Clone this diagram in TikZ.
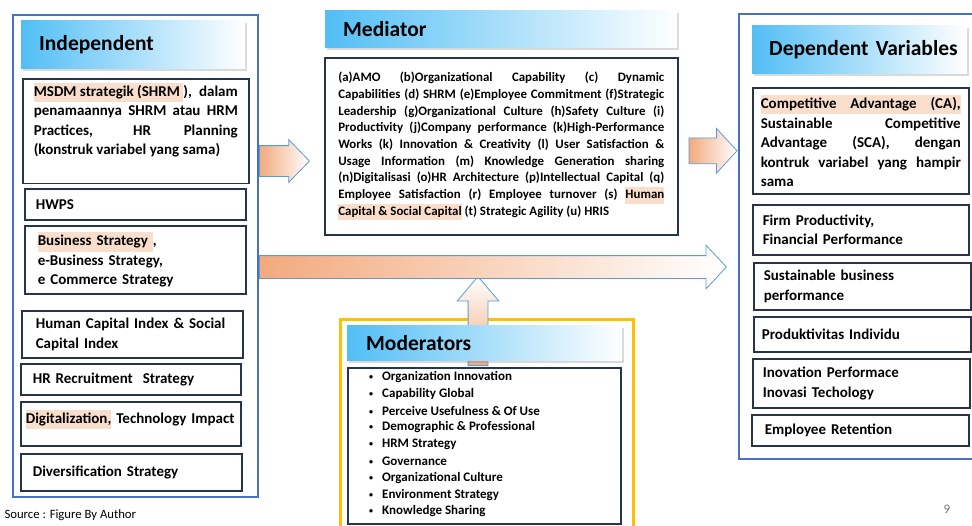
\documentclass[tikz,border=0pt]{standalone}
\usepackage{fontspec}
\setmainfont{Carlito}
\usetikzlibrary{positioning,shapes.arrows,shadows}

\definecolor{frameblue}{RGB}{68,114,196}
\definecolor{boxnavy}{RGB}{40,52,74}
\definecolor{arrowblue}{RGB}{91,155,213}
\definecolor{peach}{RGB}{242,170,125}
\definecolor{marker}{RGB}{250,222,204}
\definecolor{sky}{RGB}{82,190,245}
\definecolor{gold}{RGB}{255,192,0}

\newcommand{\marked}[1]{{\setlength{\fboxsep}{0pt}\colorbox{marker}{\strut#1}}}

\begin{document}
\begin{tikzpicture}[
  x=1pt,y=-1pt,
  frame/.style={draw=frameblue,line width=2pt,anchor=north west},
  header/.style={anchor=north west,left color=sky,right color=white,
    drop shadow={shadow xshift=2pt,shadow yshift=-2.5pt,opacity=.3},
    inner xsep=18pt,align=left,font=\fontsize{21.5}{26}\selectfont\bfseries},
  item/.style={anchor=north west,draw=boxnavy,line width=1.6pt,fill=white,
    inner ysep=4pt,align=left,font=\fontsize{15}{19.5}\selectfont\bfseries},
  blockarrow/.style={single arrow,draw=arrowblue,line width=.8pt,inner xsep=0pt,anchor=tail},
  bullet/.style={anchor=west,inner sep=0pt,font=\fontsize{13}{16}\selectfont\bfseries},
  note/.style={font=\fontsize{12.7}{15}\selectfont}
]
  \useasboundingbox (0,0) rectangle (972,525);

  \node[frame,minimum width=245pt,minimum height=482pt] (indep) at (12,14) {};
  \node[header,text width=188pt,minimum height=48pt] (indephead) at (21,20) {Independent};
  \node[item,inner xsep=11pt,text width=204pt,align=justify,text depth=83pt] (msdm) at (22,78)
    {\marked{MSDM strategik (SHRM }), dalam\linebreak
     penamaannya SHRM atau HRM\linebreak
     Practices, HR Planning\linebreak
     (konstruk variabel yang sama)};
  \node[item,inner xsep=11pt,text width=199pt,minimum height=31pt] (hwps) at (24,188) {HWPS};
  \node[item,inner xsep=13pt,text width=195pt,minimum height=68pt] (bstrat) at (24,225)
    {\marked{Business Strategy }, \\ e-Business Strategy,\\ e Commerce Strategy};
  \node[item,inner xsep=14pt,text width=193pt,minimum height=47pt] (hci) at (21,310)
    {Human Capital Index \& Social\\ Capital Index};
  \node[item,inner xsep=12pt,text width=196pt,minimum height=31pt] (recruit) at (20,363)
    {HR Recruitment\ \ Strategy};
  \node[item,inner xsep=5pt,text width=210pt,minimum height=44pt,text depth=14pt] (digital) at (20,401)
    {\marked{Digitalization,} Technology Impact};
  \node[item,inner xsep=12pt,text width=197pt,minimum height=37pt] (diverse) at (20,453)
    {Diversification Strategy};

  \node[header,text width=316pt,minimum height=37pt] (medhead) at (325,10) {Mediator};
  \node[item,inner xsep=13.5pt,text width=326pt,minimum height=177pt,align=justify,
    font=\fontsize{12.9}{16.7}\selectfont\bfseries] (medbody) at (324,57)
    {(a)AMO (b)Organizational Capability (c) Dynamic\linebreak
     Capabilities (d) SHRM (e)Employee Commitment (f)Strategic\linebreak
     Leadership (g)Organizational Culture (h)Safety Culture (i)\linebreak
     Productivity (j)Company performance (k)High-Performance\linebreak
     Works (k) Innovation \& Creativity (l) User Satisfaction \&\linebreak
     Usage Information (m) Knowledge Generation sharing\linebreak
     (n)Digitalisasi (o)HR Architecture (p)Intellectual Capital (q)\linebreak
     Employee Satisfaction (r) Employee turnover (s) \marked{Human}\linebreak
     \marked{Capital \& Social Capital} (t) Strategic Agility (u) HRIS};

  \node[frame,minimum width=240pt,minimum height=445pt] (dep) at (738,13) {};
  \node[header,inner xsep=17pt,text width=181pt,minimum height=48pt] (dephead) at (752,25)
    {\mbox{Dependent Variables}};
  \node[item,inner xsep=8pt,text width=200pt,align=justify,minimum height=106pt] (advantage) at (752,87)
    {\marked{\makebox[200pt][s]{Competitive Advantage (CA),}}\linebreak
     Sustainable Competitive\linebreak
     Advantage (SCA), dengan\linebreak
     kontruk variabel yang hampir\linebreak
     sama};
  \node[item,inner xsep=10pt,text width=196pt,minimum height=50pt] (firm) at (752,204)
    {Firm Productivity,\\ Financial Performance};
  \node[item,inner xsep=10pt,text width=197pt,minimum height=47pt] (business) at (753,262)
    {Sustainable business\\ performance};
  \node[item,inner xsep=8pt,text width=201pt,minimum height=35pt] (individual) at (753,316)
    {Produktivitas Individu};
  \node[item,inner xsep=10pt,text width=197pt,minimum height=49pt] (innovation) at (752,358)
    {Inovation Performace\\ Inovasi Techology};
  \node[item,inner xsep=13pt,text width=191pt,minimum height=31pt] (retention) at (751,414)
    {Employee Retention};

  \node[anchor=north west,draw=gold,line width=2.5pt,minimum width=293pt,minimum height=215pt]
    (modframe) at (339,318) {};
  \node[blockarrow,shape border rotate=90,minimum height=89pt,inner xsep=9.5pt,inner ysep=0pt,
    single arrow head extend=11pt,single arrow tip angle=81,top color=white,bottom color=peach]
    (upflow) at (478,366) {};
  \node[blockarrow,minimum height=467pt,inner ysep=11pt,single arrow head extend=10.5pt,
    single arrow tip angle=94,left color=peach,right color=white]
    (mainflow) at ([yshift=-11pt]indep.east) {};
  \node[header,inner xsep=19pt,text width=237pt,minimum height=35pt] (modhead) at (347,325) {Moderators};
  \node[item,minimum width=273pt,minimum height=156pt] (modbox) at (347,367) {};
  \foreach \modname [count=\i] in {Organization Innovation,Capability Global,
    Perceive Usefulness \& Of Use,Demographic \& Professional,HRM Strategy,Governance,
    Organizational Culture,Environment Strategy,Knowledge Sharing}
  {
    \node[bullet] (mod\i) at (369,{377+(\i-1)*16.8})
      {\makebox[13pt][l]{\raisebox{1pt}{\fontsize{8}{8}\selectfont\textbullet}}\modname};
  }

  \node[blockarrow,minimum height=50pt,inner ysep=15pt,single arrow head extend=6pt,
    single arrow tip angle=92,left color=peach,right color=white]
    (tomed) at ([yshift=95pt]indep.east) {};
  \node[blockarrow,minimum height=48pt,inner ysep=12.5pt,single arrow head extend=9.5pt,
    single arrow tip angle=95,left color=peach,right color=white]
    (todep) at ([xshift=10pt,yshift=-4.5pt]medbody.east) {};

  \node[note,anchor=west] (source) at (1,515) {Source : Figure By Author};
  \node[font=\fontsize{13}{15}\selectfont,text=black!55] (pagenum) at (947,509) {9};
\end{tikzpicture}
\end{document}
